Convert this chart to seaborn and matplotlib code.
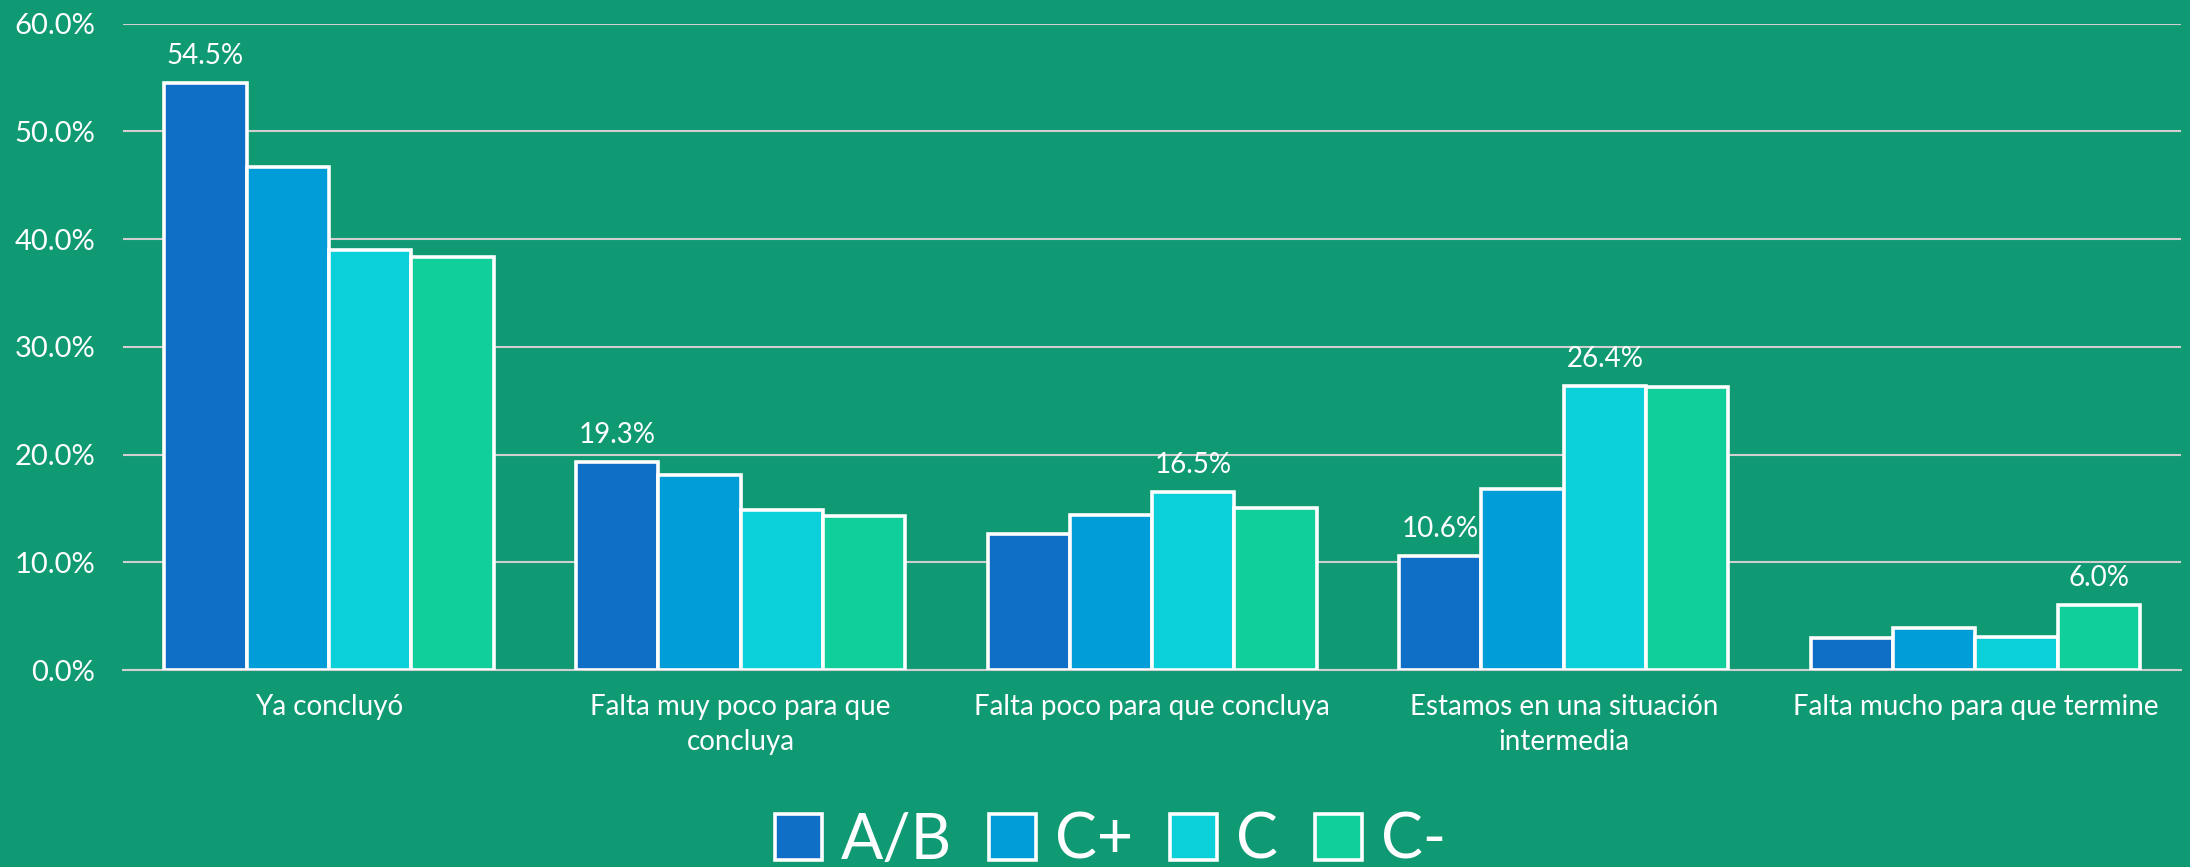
import numpy as np
import pandas as pd
import matplotlib
matplotlib.use("Agg")
import matplotlib.pyplot as plt
import seaborn as sns

# ── data (percent) ───────────────────────────────────────────
categories = [
    "Ya concluyó",
    "Falta muy poco para que\nconcluya",
    "Falta poco para que concluya",
    "Estamos en una situación\nintermedia",
    "Falta mucho para que termine",
]
segments = ["A/B", "C+", "C", "C-"]

ab_vals     = [54.5, 19.3, 12.6, 10.6, 3.0]
cplus_vals  = [46.7, 18.1, 14.4, 16.8, 3.9]
c_vals      = [39.0, 14.9, 16.5, 26.4, 3.1]
cminus_vals = [38.3, 14.3, 15.0, 26.3, 6.0]

# which bars carry a value label (category index per segment)
labelled = {"A/B": [0, 1, 3], "C+": [], "C": [2, 3], "C-": [4]}

yticks = [0, 10, 20, 30, 40, 50, 60]

BG = "#0F9A74"
palette = ["#0F6FC6", "#009DD9", "#0BD0D9", "#10CF9B"]

df = pd.DataFrame({
    "categoria": categories * 4,
    "segmento": np.repeat(segments, len(categories)),
    "valor": ab_vals + cplus_vals + c_vals + cminus_vals,
})

sns.set_style("white")
plt.rcParams["font.family"] = ["Lato", "DejaVu Sans"]

fig, ax = plt.subplots(figsize=(21.9, 8.67), dpi=100)
fig.patch.set_facecolor(BG)
ax.set_facecolor(BG)
fig.subplots_adjust(left=0.0562, right=0.996, bottom=0.2272, top=0.9727)

sns.barplot(data=df, x="categoria", y="valor", hue="segmento",
            order=categories, hue_order=segments, palette=palette,
            width=0.8, edgecolor="white", linewidth=2.6, saturation=1,
            ax=ax, zorder=3)

# value labels on selected bars
for cont, seg in zip(ax.containers, segments):
    vals = df[df["segmento"] == seg]["valor"].tolist()
    labs = [f"{v:.1f}%" if i in labelled[seg] else "" for i, v in enumerate(vals)]
    ax.bar_label(cont, labels=labs, padding=10, color="white", fontsize=20)

# axes styling
ax.set_ylim(0, 60)
ax.set_yticks(yticks)
ax.set_yticklabels([f"{t:.1f}%" for t in yticks])
ax.yaxis.grid(True, color="#CFCFCF", linewidth=1.5, zorder=0)
ax.set_axisbelow(True)
ax.set_xlabel("")
ax.set_ylabel("")
for s in ["top", "right", "left"]:
    ax.spines[s].set_visible(False)
ax.spines["bottom"].set_color("#CFCFCF")
ax.spines["bottom"].set_linewidth(1.5)
ax.set_xlim(-0.5, len(categories) - 0.5)

# category boundary ticks (major), labels at centres (minor)
ax.set_xticks(np.arange(len(categories) + 1) - 0.5)
ax.set_xticklabels([])
ax.tick_params(axis="x", which="major", length=8, width=1.5, color="#CFCFCF", direction="out")
ax.set_xticks(np.arange(len(categories)), minor=True)
ax.set_xticklabels(categories, minor=True, color="white", fontsize=20, linespacing=1.45)
ax.tick_params(axis="x", which="minor", length=0, pad=17)
ax.tick_params(axis="y", length=0, pad=20, labelcolor="white", labelsize=21)

# legend at bottom
handles, labels = ax.get_legend_handles_labels()
ax.legend(handles, labels, loc="lower center", bbox_to_anchor=(0.507, -0.032),
          bbox_transform=fig.transFigure, ncol=4, frameon=False, fontsize=45,
          handlelength=0.75, handleheight=0.75, handletextpad=0.3,
          columnspacing=0.6, labelcolor="white", borderaxespad=0)

plt.savefig("out.png", dpi=100, facecolor=BG)
